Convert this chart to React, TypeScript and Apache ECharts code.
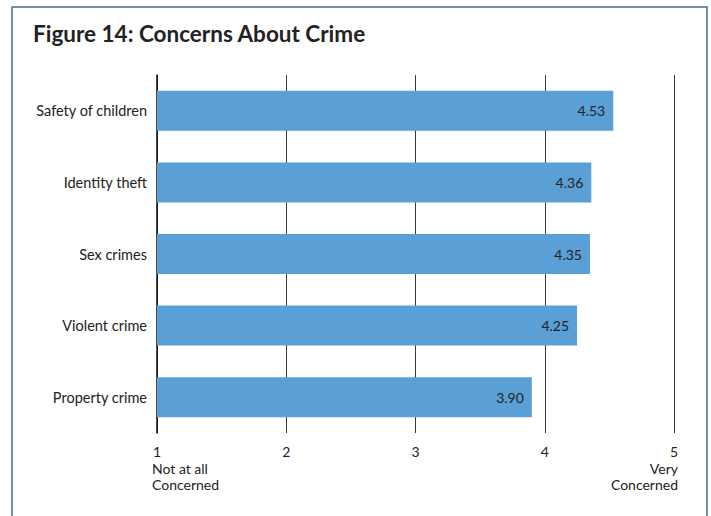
import React, { useEffect, useRef } from "react";
import * as echarts from "echarts";

const categories = ["Safety of children", "Identity theft", "Sex crimes", "Violent crime", "Property crime"];
const values = [4.53, 4.36, 4.35, 4.25, 3.9];
const tickLabels = ["1", "2", "3", "4", "5"];
const title = "Figure 14: Concerns About Crime";
const leftEndLabel = "Not at all\nConcerned";
const rightEndLabel = "Very\nConcerned";

export default function App() {
  const ref = useRef<HTMLDivElement>(null);
  useEffect(() => {
    if (!ref.current) return;
    const chart = echarts.init(ref.current, null, { renderer: "svg" });
    const font = "Lato, 'Open Sans', sans-serif";
    chart.setOption({
      animation: false,
      backgroundColor: "#ffffff",
      grid: { left: 157, right: 37, top: 75, bottom: 83, containLabel: false },
      xAxis: {
        type: "value",
        min: 1,
        max: 5,
        interval: 1,
        axisLine: { show: false },
        axisTick: { show: false },
        splitLine: { show: true, lineStyle: { color: "#3a3a3a", width: 1 } },
        axisLabel: {
          margin: 11,
          fontFamily: font,
          fontSize: 14,
          color: "#222",
          formatter: (v: number) => tickLabels[Math.round(v) - 1] ?? "",
        },
      },
      yAxis: {
        type: "category",
        data: categories,
        inverse: true,
        axisLine: { show: true, lineStyle: { color: "#111", width: 1.5 } },
        axisTick: { show: false },
        axisLabel: { margin: 10, fontFamily: font, fontSize: 14.5, color: "#222" },
      },
      series: [
        {
          type: "bar",
          data: values,
          barWidth: 40,
          itemStyle: { color: "#5a9fd5" },
          label: {
            show: true,
            position: "insideRight",
            distance: 8,
            fontFamily: font,
            fontSize: 14,
            color: "#222",
            formatter: (p: any) => Number(p.value).toFixed(2),
          },
        },
      ],
      graphic: [
        {
          type: "rect",
          shape: { x: 12, y: 7, width: 695, height: 530 },
          style: { fill: "none", stroke: "#3d6f93", lineWidth: 1.5 },
          silent: true,
        },
        {
          type: "text",
          x: 33,
          y: 22,
          style: { text: title, fontFamily: font, fontWeight: "bold", fontSize: 22.5, fill: "#222" },
        },
        {
          type: "text",
          x: 152,
          y: 460,
          style: { text: leftEndLabel, fontFamily: font, fontSize: 14, fill: "#222", lineHeight: 16 },
        },
        {
          type: "text",
          x: 678,
          y: 460,
          style: { text: rightEndLabel, fontFamily: font, fontSize: 14, fill: "#222", lineHeight: 16, align: "right" },
        },
      ],
    });
    return () => chart.dispose();
  }, []);
  return <div ref={ref} style={{ position: "fixed", left: 0, top: 0, width: 711, height: 516 }} />;
}
